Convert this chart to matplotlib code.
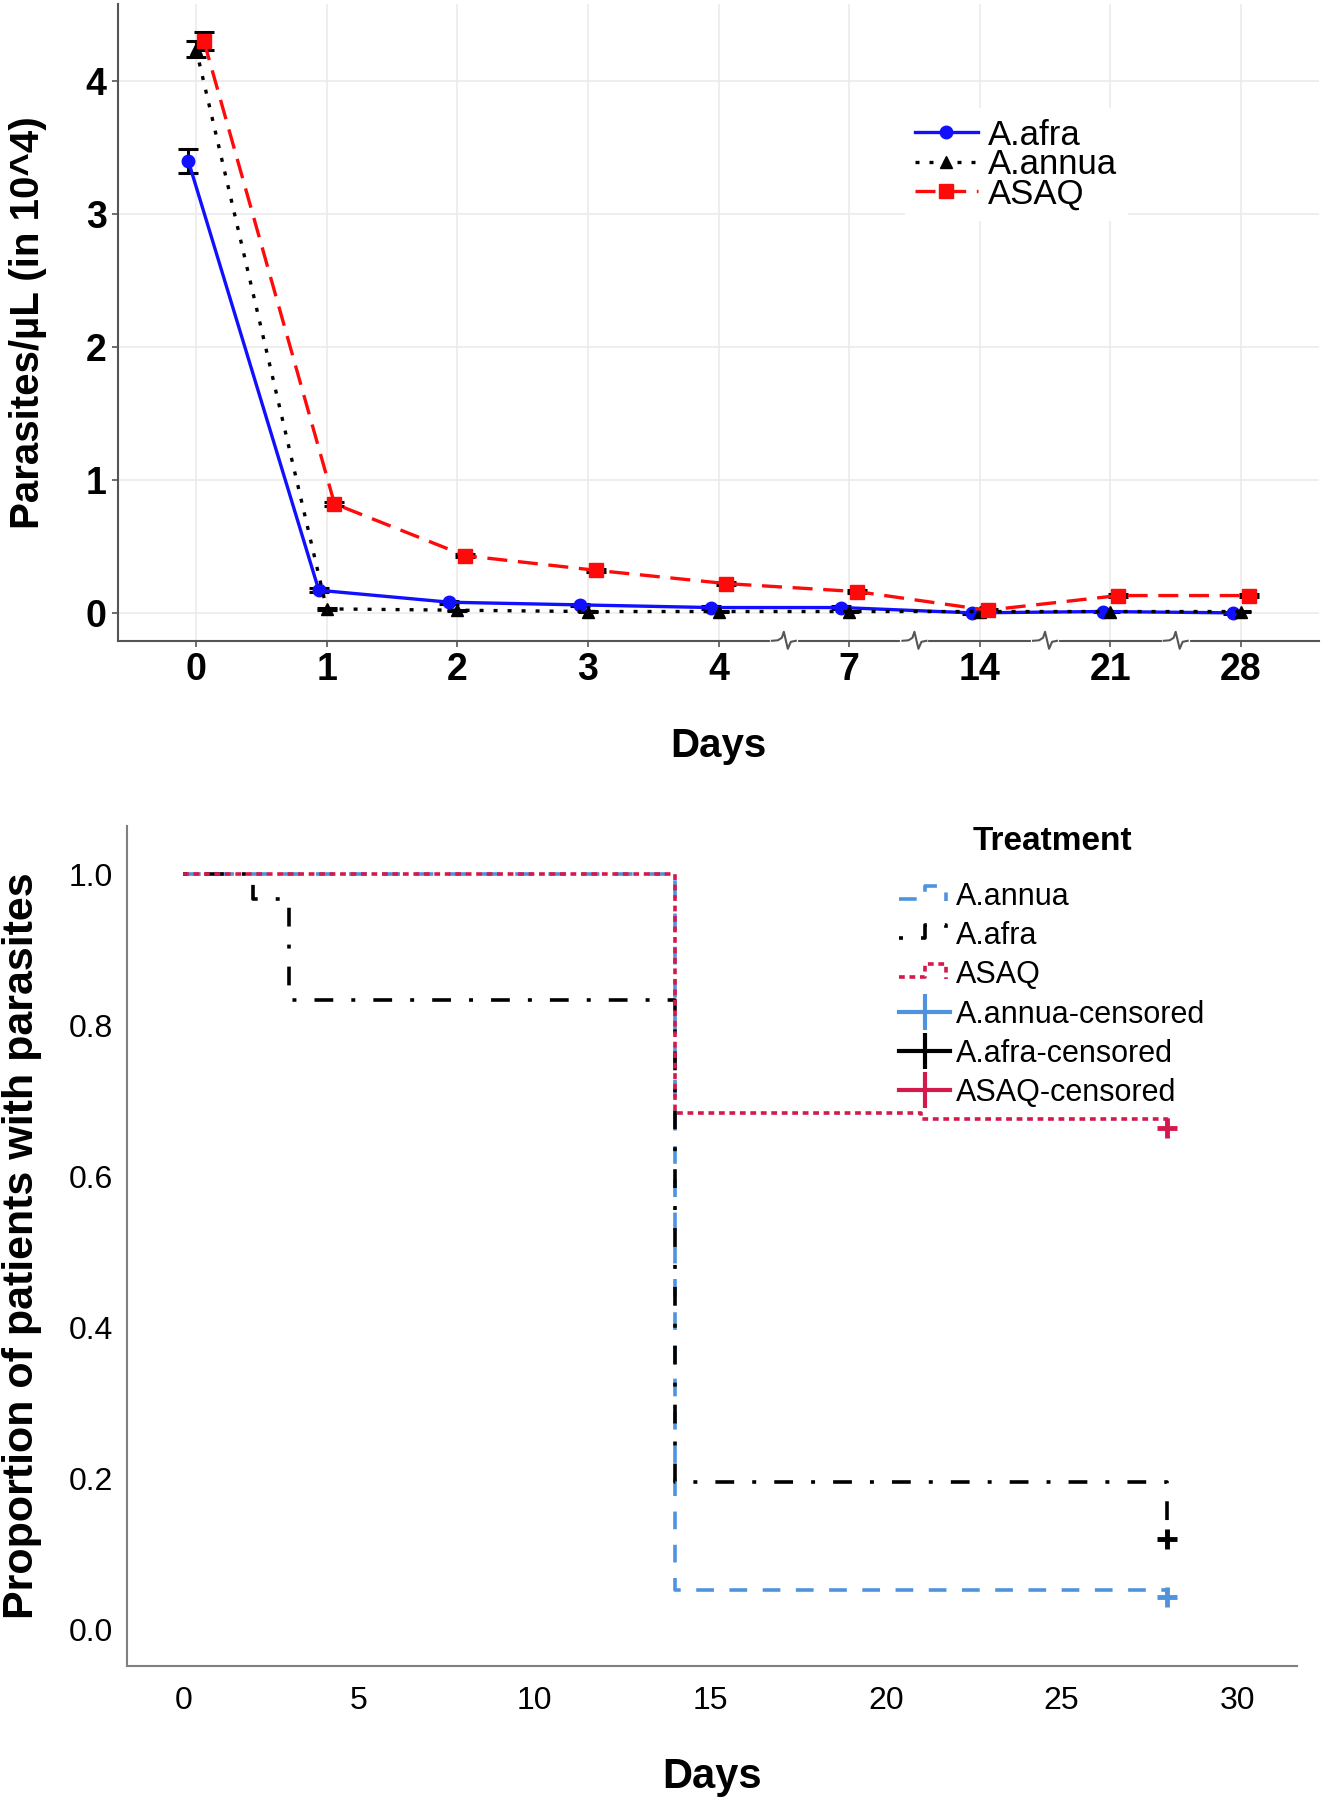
import matplotlib
matplotlib.use("Agg")
import matplotlib.pyplot as plt
import numpy as np
from matplotlib.lines import Line2D
from matplotlib.legend_handler import HandlerLine2D
from matplotlib.ticker import FormatStrFormatter

plt.rcParams["font.family"] = ["Liberation Sans", "DejaVu Sans"]

# ---------------------------------------------------------------
# Top panel data: parasite density (in 10^4 / µL) per day
# ---------------------------------------------------------------
DAYS = ["0", "1", "2", "3", "4", "7", "14", "21", "28"]

AFRA = [3.40, 0.17, 0.08, 0.06, 0.04, 0.04, 0.00, 0.01, 0.00]
AFRA_ERR = [0.09, 0.015, 0.01, 0.01, 0.01, 0.01, 0.005, 0.005, 0.005]

ANNUA = [4.24, 0.03, 0.02, 0.01, 0.01, 0.01, 0.01, 0.01, 0.01]
ANNUA_ERR = [0.06, 0.01, 0.005, 0.005, 0.005, 0.005, 0.005, 0.005, 0.005]

ASAQ = [4.30, 0.82, 0.43, 0.32, 0.22, 0.16, 0.02, 0.13, 0.13]
ASAQ_ERR = [0.07, 0.015, 0.01, 0.01, 0.01, 0.01, 0.01, 0.01, 0.01]

BREAKS = [4.5, 5.5, 6.5, 7.5]   # axis break marks between non-consecutive days

# ---------------------------------------------------------------
# Bottom panel data: Kaplan-Meier curves
# ---------------------------------------------------------------
ANNUA_T = [0, 14, 28]
ANNUA_S = [1.0, 0.052, 0.043]
AFRA_T = [0, 2, 3, 14, 28]
AFRA_S = [1.0, 0.967, 0.833, 0.195, 0.12]
ASAQ_T = [0, 14, 21, 28]
ASAQ_S = [1.0, 0.684, 0.676, 0.664]

KM_BLUE = "#4f93de"
KM_RED = "#d41a4c"

fig = plt.figure(figsize=(13.22, 18), dpi=100)

# ===============================================================
# Top panel
# ===============================================================
ax1 = fig.add_axes([0.089, 0.644, 0.909, 0.354])
x = np.arange(len(DAYS))
dodge = 0.06

series = [
    (AFRA, AFRA_ERR, "A.afra", "#1010ff", "-", "o", 9, -dodge),
    (ANNUA, ANNUA_ERR, "A.annua", "black", (0, (1.2, 3.0)), "^", 9, 0.0),
    (ASAQ, ASAQ_ERR, "ASAQ", "#ff0a0a", (0, (6.0, 3.2)), "s", 10, dodge),
]
for vals, errs, lab, col, ls, mk, ms, off in series:
    ax1.errorbar(x + off, vals, yerr=errs, fmt="none", ecolor="black",
                 elinewidth=2.2, capsize=7.5, capthick=2.2, zorder=3)
    ax1.plot(x + off, vals, color=col, ls=ls, lw=2.4, marker=mk, ms=ms,
             label=lab, zorder=4)

ax1.set_xlim(-0.6, 8.6)
ax1.set_ylim(-0.21, 4.58)
ax1.set_xticks(x, DAYS, fontweight="bold")
ax1.set_yticks([0, 1, 2, 3, 4], ["0", "1", "2", "3", "4"], fontweight="bold")
ax1.tick_params(length=4, width=1.2, color="#555555", labelsize=27, pad=4)
ax1.grid(color="#ebebeb", lw=1.2)
ax1.set_axisbelow(True)
for s in ["top", "right"]:
    ax1.spines[s].set_visible(False)
for s in ["left", "bottom"]:
    ax1.spines[s].set_color("#555555")
    ax1.spines[s].set_linewidth(1.5)

# axis break squiggles on the x axis
px_x = (8.6 + 0.6) / (0.909 * 1322)
px_y = 1.0 / (0.354 * 1800)
sq_x = np.array([-12, -6, -2, 0, 4, 7, 12])
sq_y = np.array([0, 0.5, 3, 9, -8, -1, 0])
for b in BREAKS:
    ax1.plot([b - 12 * px_x, b + 12 * px_x], [0, 0], color="white", lw=3,
             transform=ax1.get_xaxis_transform(), clip_on=False, zorder=5)
    ax1.plot(b + sq_x * px_x, sq_y * px_y, color="#555555", lw=1.5,
             transform=ax1.get_xaxis_transform(), clip_on=False, zorder=6)

ax1.set_xlabel("Days", fontsize=29, fontweight="bold")
ax1.xaxis.set_label_coords(0.5, -0.136)
ax1.set_ylabel("Parasites/µL (in 10^4)", fontsize=29, fontweight="bold")
ax1.yaxis.set_label_coords(-0.059, 0.5)

leg1 = ax1.legend(loc="upper left", bbox_to_anchor=(0.655, 0.836),
                  frameon=True, facecolor="white", edgecolor="none",
                  fancybox=False, framealpha=1, fontsize=25,
                  handlelength=1.8, handletextpad=0.3, labelspacing=-0.1,
                  borderpad=0.3, borderaxespad=0)

# ===============================================================
# Bottom panel
# ===============================================================
ax2 = fig.add_axes([0.096, 0.0744, 0.885, 0.4667])

km = [
    (ANNUA_T, ANNUA_S, "A.annua", KM_BLUE, (0, (4.9, 4.3))),
    (AFRA_T, AFRA_S, "A.afra", "black", (0, (1.1, 5.0, 5.2, 5.0))),
    (ASAQ_T, ASAQ_S, "ASAQ", KM_RED, (0, (1.6, 1.3))),
]
step_handles = []
cens_handles = []
for t, s, lab, col, ls in km:
    ax2.step(t, s, where="post", color=col, ls=ls, lw=2.6)
    ax2.plot(t[-1], s[-1], marker="+", ms=14, mew=3.5, color=col, ls="none")
    step_handles.append(Line2D([], [], color=col, ls=ls, lw=2.6))
    cens_handles.append(Line2D([], [], color=col, lw=3, marker="|",
                               markersize=26, mew=3))


class StepKey(HandlerLine2D):
    def create_artists(self, legend, orig_handle, xdescent, ydescent,
                       width, height, fontsize, trans):
        xs = np.array([0, 0.5, 0.5, 0.92, 0.92]) * width - xdescent
        ys = np.array([0.3, 0.3, 0.9, 0.9, 0.2]) * height - ydescent
        line = Line2D(xs, ys)
        self.update_prop(line, orig_handle, legend)
        line.set_transform(trans)
        return [line]


labels = ["A.annua", "A.afra", "ASAQ",
          "A.annua-censored", "A.afra-censored", "ASAQ-censored"]
hmap = {h: StepKey() for h in step_handles}
leg2 = ax2.legend(step_handles + cens_handles, labels, handler_map=hmap,
                  title="Treatment",
                  title_fontproperties={"weight": "bold", "size": 24},
                  loc="upper left", bbox_to_anchor=(0.66, 1.0),
                  frameon=False, fontsize=22, handlelength=1.67,
                  handletextpad=0.2, labelspacing=0.3, borderaxespad=0,
                  borderpad=0)
leg2._legend_box.sep = 18  # extra room under the title

ax2.set_xlim(-1.6, 31.7)
ax2.set_ylim(-0.049, 1.064)
ax2.set_xticks([0, 5, 10, 15, 20, 25, 30])
ax2.set_yticks([0.0, 0.2, 0.4, 0.6, 0.8, 1.0])
ax2.yaxis.set_major_formatter(FormatStrFormatter("%.1f"))
ax2.tick_params(axis="x", length=0, labelsize=23, pad=14)
ax2.tick_params(axis="y", length=0, labelsize=23, pad=10)
for s in ["top", "right"]:
    ax2.spines[s].set_visible(False)
for s in ["left", "bottom"]:
    ax2.spines[s].set_color("#808080")
    ax2.spines[s].set_linewidth(1.5)

ax2.set_xlabel("Days", fontsize=30, fontweight="bold")
ax2.xaxis.set_label_coords(0.5, -0.108)
ax2.set_ylabel("Proportion of patients with parasites", fontsize=31,
               fontweight="bold")
ax2.yaxis.set_label_coords(-0.073, 0.5)

fig.savefig("out.png", dpi=100)
